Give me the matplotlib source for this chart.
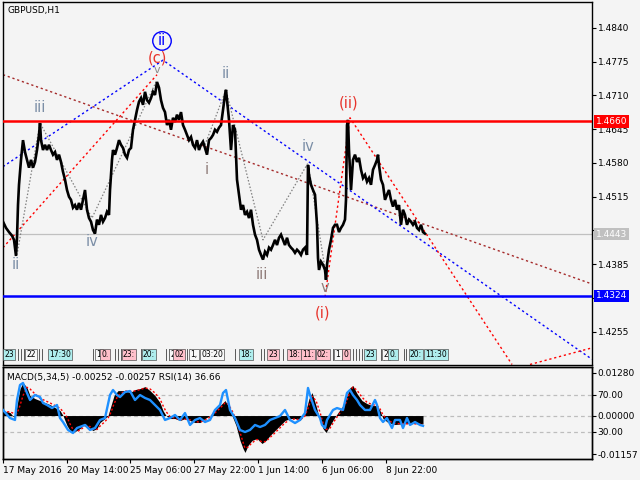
import matplotlib
matplotlib.use('Agg')
import matplotlib.pyplot as plt
import matplotlib.transforms as mtrans

plt.rcParams['font.family'] = ['DejaVu Sans']
BG = '#f4f4f4'

# ---------------- data (hourly bars, index = bar number) ----------------
price_idx = [0, 3, 6, 9, 11, 13, 14, 15, 16, 17,
             18, 19, 20, 22, 24, 26, 28, 30, 32, 34,
             36, 37, 38, 40, 42, 44, 46, 48, 50, 52,
             54, 56, 58, 60, 62, 64, 66, 68, 70, 72,
             74, 76, 78, 80, 82, 84, 86, 88, 90, 92,
             94, 96, 98, 100, 102, 104, 106, 107, 108, 109,
             110, 112, 114, 116, 118, 120, 122, 124, 126, 128,
             130, 132, 134, 136, 138, 140, 142, 144, 146, 148,
             150, 152, 154, 156, 158, 160, 162, 164, 166, 168,
             170, 172, 174, 176, 178, 180, 182, 184, 186, 188,
             190, 192, 194, 196, 198, 200, 202, 204, 206, 208,
             210, 212, 214, 216, 218, 220, 222, 223, 224, 226,
             228, 230, 232, 234, 236, 238, 240, 242, 244, 246,
             248, 250, 252, 254, 256, 258, 260, 262, 264, 266,
             268, 270, 272, 274, 276, 278, 280, 282, 284, 286,
             288, 290, 292, 294, 296, 298, 300, 302, 304, 305,
             306, 308, 310, 312, 314, 315, 316, 318, 320, 322,
             323, 324, 326, 328, 330, 332, 334, 336, 338, 340,
             342, 343, 344, 345, 346, 348, 350, 352, 354, 356,
             358, 360, 362, 364, 366, 368, 370, 372, 374, 375,
             376, 378, 380, 382, 384, 386, 388, 390, 392, 394,
             396, 398, 400, 402, 404, 406, 408, 410, 412, 414,
             416, 418, 420, 422]
price_close = [1.4467, 1.4455, 1.4447, 1.4440, 1.4432, 1.4401, 1.4436, 1.4499, 1.4538, 1.4563,
               1.4586, 1.4605, 1.4624, 1.4601, 1.4586, 1.4571, 1.4586, 1.4571, 1.4582, 1.4605,
               1.4634, 1.4657, 1.4624, 1.4605, 1.4615, 1.4605, 1.4615, 1.4605, 1.4596, 1.4601,
               1.4586, 1.4596, 1.4582, 1.4563, 1.4548, 1.4528, 1.4515, 1.4509, 1.4494, 1.4499,
               1.4490, 1.4503, 1.4490, 1.4509, 1.4528, 1.4490, 1.4474, 1.4467, 1.4451, 1.4444,
               1.4471, 1.4461, 1.4480, 1.4467, 1.4474, 1.4486, 1.4480, 1.4528, 1.4557, 1.4586,
               1.4605, 1.4596, 1.4609, 1.4624, 1.4615, 1.4609, 1.4596, 1.4590, 1.4605, 1.4609,
               1.4644, 1.4663, 1.4682, 1.4698, 1.4705, 1.4692, 1.4717, 1.4701, 1.4696, 1.4705,
               1.4717, 1.4711, 1.4736, 1.4725, 1.4701, 1.4686, 1.4678, 1.4653, 1.4663, 1.4644,
               1.4667, 1.4659, 1.4673, 1.4663, 1.4678, 1.4653, 1.4644, 1.4634, 1.4624, 1.4630,
               1.4615, 1.4609, 1.4624, 1.4605, 1.4615, 1.4621, 1.4609, 1.4596, 1.4624, 1.4628,
               1.4634, 1.4644, 1.4640, 1.4648, 1.4653, 1.4682, 1.4711, 1.4721, 1.4701, 1.4663,
               1.4605, 1.4653, 1.4644, 1.4548, 1.4519, 1.4490, 1.4499, 1.4480, 1.4486, 1.4474,
               1.4490, 1.4461, 1.4442, 1.4432, 1.4413, 1.4403, 1.4394, 1.4409, 1.4403, 1.4417,
               1.4413, 1.4422, 1.4432, 1.4422, 1.4436, 1.4442, 1.4432, 1.4422, 1.4436, 1.4422,
               1.4417, 1.4413, 1.4407, 1.4413, 1.4409, 1.4403, 1.4413, 1.4417, 1.4403, 1.4576,
               1.4557, 1.4538, 1.4528, 1.4519, 1.4461, 1.4397, 1.4374, 1.4390, 1.4384, 1.4374,
               1.4355, 1.4384, 1.4413, 1.4432, 1.4455, 1.4461, 1.4461, 1.4447, 1.4455, 1.4461,
               1.4471, 1.4509, 1.4653, 1.4663, 1.4605, 1.4528, 1.4586, 1.4596, 1.4582, 1.4590,
               1.4567, 1.4551, 1.4557, 1.4544, 1.4551, 1.4538, 1.4567, 1.4576, 1.4586, 1.4596,
               1.4576, 1.4548, 1.4538, 1.4509, 1.4519, 1.4528, 1.4509, 1.4496, 1.4509, 1.4490,
               1.4499, 1.4461, 1.4490, 1.4480, 1.4461, 1.4471, 1.4467, 1.4461, 1.4467, 1.4455,
               1.4451, 1.4461, 1.4447, 1.4444]

# horizontal levels
level_red = 1.4660
level_blue = 1.4324
level_last = 1.4443

# Elliott wave sub-wave paths (gray dotted)
wave_a_idx = [14, 37, 89, 154]
wave_a_val = [1.4403, 1.4657, 1.4474, 1.4740]
wave_b_idx = [202, 223, 260, 305, 323]
wave_b_val = [1.4615, 1.4721, 1.4432, 1.4580, 1.4365]
# trend lines
blue_idx = [0, 160, 589]
blue_val = [1.4573, 1.4778, 1.4202]
brown_idx = [0, 589]
brown_val = [1.4750, 1.4347]
red1_idx = [0, 154]
red1_val = [1.4417, 1.4750]
red2_idx = [322, 347, 509]
red2_val = [1.4322, 1.4667, 1.4192]
red3_idx = [527, 589]
red3_val = [1.4192, 1.4224]

# wave labels: text, bar index, price, colour key, size
lab_txt = ['ii', 'iii', 'iv', '(c)', 'v', 'i', 'ii', 'iii', 'iv', 'v', '(ii)', '(i)']
lab_idx = [13, 37, 89, 154, 154, 204, 223, 259, 305, 322, 346, 320]
lab_val = [1.4384, 1.4686, 1.4428, 1.4782, 1.4760, 1.4567, 1.4753, 1.4365, 1.4611, 1.4340, 1.4696, 1.4292]
lab_col = ['s', 's', 's', 'r', 'g', 'b', 's', 'b', 's', 'b', 'r', 'r']
lab_size = [10.5, 10.5, 10.5, 10.5, 8, 10.5, 10.5, 10.5, 10.5, 10.5, 10.5, 10.5]
circ_txt = 'ii'
circ_idx = 159
circ_val = 1.4815

# price axis
ytick_vals = [1.4840, 1.4775, 1.4710, 1.4645, 1.4580, 1.4515, 1.4450, 1.4385, 1.4320, 1.4255]
ytick_show = [True, True, True, True, True, True, False, True, False, True]

# time-label objects strip
tl_idx = [6, 28, 57, 96, 102, 126, 146, 170, 176, 191, 209, 243, 270, 291, 305, 320, 335, 343, 367, 383, 390, 413, 433]
tl_txt = ['23', '22', '17:30', '1', '0.', '23:', '20:', '2', '02', '1,', '03:20', '18:', '23', '18:',
          '11:', '02:', '1', '0', '23', '2', '0.', '20:', '11:30']
tl_col = ['c', 'w', 'c', 'w', 'p', 'p', 'c', 'w', 'p', 'w', 'w', 'c', 'p', 'p', 'p', 'p', 'w', 'p',
          'c', 'w', 'c', 'c', 'c']
sep_idx = [15, 18, 21, 36, 39, 90, 93, 112, 115, 118, 138, 141, 163, 166, 184, 187, 232, 258, 261,
           280, 330, 350, 353, 356, 359, 378, 381, 401, 403]

# MACD main
macd_idx = [0, 7, 12, 14, 17, 20, 24, 27, 32, 37, 42, 47, 52, 57, 60, 64, 67, 70, 74, 77,
            82, 87, 90, 94, 97, 102, 105, 108, 111, 115, 122, 127, 132, 137, 142, 147, 152, 157, 160, 163,
            167, 172, 177, 182, 187, 192, 197, 202, 207, 212, 217, 222, 225, 229, 233, 237, 240, 242, 245, 249,
            254, 259, 263, 267, 272, 277, 282, 287, 292, 297, 302, 306, 309, 313, 317, 320, 323, 327, 331, 335,
            340, 344, 347, 350, 354, 359, 364, 369, 374, 377, 380, 385, 392, 402, 412, 420]
macd_val = [0.0015, 0.0009, -0.0009, 0.0030, 0.0081, 0.0099, 0.0084, 0.0060, 0.0051, 0.0045,
            0.0039, 0.0033, 0.0024, 0.0015, 0.0000, -0.0030, -0.0045, -0.0051, -0.0045, -0.0039,
            -0.0024, -0.0039, -0.0045, -0.0039, -0.0021, -0.0009, 0.0000, 0.0030, 0.0060, 0.0075,
            0.0075, 0.0069, 0.0078, 0.0081, 0.0087, 0.0075, 0.0060, 0.0039, 0.0015, 0.0000,
            -0.0009, -0.0009, -0.0015, -0.0009, -0.0015, -0.0021, -0.0021, -0.0009, 0.0000, 0.0015,
            0.0030, 0.0045, 0.0030, 0.0000, -0.0030, -0.0075, -0.0099, -0.0111, -0.0090, -0.0075,
            -0.0069, -0.0084, -0.0075, -0.0060, -0.0045, -0.0030, -0.0015, -0.0009, -0.0009, -0.0015,
            0.0006, 0.0051, 0.0069, 0.0030, -0.0015, -0.0039, -0.0051, -0.0030, -0.0009, 0.0009,
            0.0030, 0.0060, 0.0084, 0.0090, 0.0066, 0.0045, 0.0036, 0.0030, 0.0030, 0.0015,
            -0.0009, -0.0021, -0.0027, -0.0024, -0.0024, -0.00252]
signal_val = [0.0012, 0.0011, 0.0005, 0.0006, 0.0030, 0.0060, 0.0085, 0.0080, 0.0065, 0.0052,
              0.0045, 0.0038, 0.0030, 0.0022, 0.0012, -0.0005, -0.0025, -0.0042, -0.0048, -0.0044,
              -0.0032, -0.0033, -0.0040, -0.0042, -0.0032, -0.0018, -0.0008, 0.0010, 0.0035, 0.0060,
              0.0074, 0.0072, 0.0074, 0.0078, 0.0083, 0.0080, 0.0068, 0.0050, 0.0030, 0.0012,
              -0.0003, -0.0008, -0.0012, -0.0011, -0.0013, -0.0018, -0.0020, -0.0014, -0.0005, 0.0008,
              0.0022, 0.0038, 0.0035, 0.0015, -0.0012, -0.0050, -0.0080, -0.0098, -0.0095, -0.0082,
              -0.0072, -0.0079, -0.0078, -0.0066, -0.0052, -0.0037, -0.0022, -0.0013, -0.0010, -0.0013,
              -0.0002, 0.0030, 0.0058, 0.0045, 0.0010, -0.0022, -0.0042, -0.0038, -0.0018, 0.0000,
              0.0020, 0.0045, 0.0072, 0.0086, 0.0076, 0.0055, 0.0040, 0.0033, 0.0030, 0.0020,
              0.0002, -0.0015, -0.0024, -0.0025, -0.0025, -0.00257]

# RSI(14)
rsi_idx = [0, 7, 12, 14, 17, 20, 24, 27, 32, 37, 40, 44, 49, 54, 57, 60, 65, 70, 74, 82,
           87, 92, 97, 102, 107, 110, 114, 117, 122, 127, 132, 137, 142, 147, 152, 157, 162, 167, 172, 177,
           182, 187, 192, 197, 202, 207, 212, 217, 220, 223, 227, 232, 237, 242, 247, 252, 257, 262, 267, 272,
           277, 282, 287, 292, 297, 302, 305, 307, 312, 317, 319, 322, 324, 327, 330, 334, 340, 344, 347, 350,
           354, 357, 362, 367, 372, 374, 377, 380, 384, 389, 392, 397, 400, 404, 407, 412, 417, 420]
rsi_val = [53.8, 45.1, 43.0, 64.6, 80.8, 83.0, 72.2, 64.6, 70.0, 67.8, 61.4, 59.2, 55.9, 59.2, 45.1, 40.8,
           32.2, 28.9, 34.3, 37.6, 32.2, 34.3, 43.0, 45.1, 70.0, 75.4, 70.0, 67.8, 73.2, 74.3, 64.6, 70.0,
           66.8, 64.6, 59.2, 53.8, 43.0, 45.1, 48.4, 43.0, 50.5, 37.6, 43.0, 45.1, 40.8, 43.0, 53.8, 59.2,
           72.2, 75.4, 53.8, 45.1, 32.2, 30.0, 32.2, 37.6, 35.4, 37.6, 43.0, 45.1, 47.3, 53.8, 43.0, 39.7,
           43.0, 50.5, 77.6, 70.0, 53.8, 45.1, 37.6, 34.3, 43.0, 48.4, 53.8, 55.9, 53.8, 72.2, 75.4, 70.0,
           64.6, 59.2, 53.8, 53.8, 64.6, 59.2, 45.1, 40.8, 45.1, 34.3, 43.0, 43.0, 34.3, 45.1, 37.6, 40.8,
           37.6, 36.66]

date_idx = [0, 64, 127, 191, 255, 319, 383]
date_lab = ['17 May 2016', '20 May 14:00', '25 May 06:00', '27 May 22:00', '1 Jun 14:00', '6 Jun 06:00', '8 Jun 22:00']

# ---------------- figure ----------------
fig = plt.figure(figsize=(6.4, 4.8), dpi=100, facecolor=BG)
ax = fig.add_axes([3 / 640, 1 - 365 / 480, 589 / 640, 363 / 480])
ax.set_facecolor(BG)
ax.set_xlim(0, 589)
ax.set_ylim(1.4191, 1.4890)

# horizontal levels
ax.axhline(level_last, color='#c0c0c0', lw=0.9, zorder=1)
ax.axhline(level_red, color='#ff0000', lw=1.8, zorder=4)
ax.axhline(level_blue, color='#0000ff', lw=1.8, zorder=4)

dot = dict(lw=1.0, dashes=(1.6, 2.0))
ax.plot(brown_idx, brown_val, color='#a52a2a', zorder=2, **dot)
ax.plot(blue_idx, blue_val, color='#0000ff', zorder=2, **dot)
ax.plot(red1_idx, red1_val, color='#ff0000', zorder=2, **dot)
ax.plot(red2_idx, red2_val, color='#ff0000', zorder=2, **dot)
ax.plot(red3_idx, red3_val, color='#ff0000', zorder=2, **dot)
ax.plot(wave_a_idx, wave_a_val, color='#808080', lw=0.9, dashes=(1.2, 1.5), zorder=2)
ax.plot(wave_b_idx, wave_b_val, color='#808080', lw=0.9, dashes=(1.2, 1.5), zorder=2)

# price
ax.plot(price_idx, price_close, color='black', lw=1.9, zorder=3, solid_joinstyle='miter')

# wave labels
cmap = {'s': '#7b8ea6', 'b': '#8f7c79', 'r': '#e8332b', 'g': '#8a8a8a'}
for t, xi, yv, c, fs in zip(lab_txt, lab_idx, lab_val, lab_col, lab_size):
    ax.text(xi, yv, t, color=cmap[c], fontsize=fs, ha='center', va='center', zorder=6)
ax.text(circ_idx, circ_val, circ_txt, color='#0000ff', fontsize=10.5, ha='center', va='center', zorder=6,
        bbox=dict(boxstyle='circle,pad=0.12', fc='none', ec='#0000ff', lw=1.0))

ax.text(0.007, 0.988, 'GBPUSD,H1', transform=ax.transAxes, fontsize=6.5, va='top', ha='left')

# time label strip
tcol = {'c': '#afeeee', 'p': '#ffc0cb', 'w': '#f8f8f8'}
for xi in sep_idx:
    ax.plot([xi, xi], [1.4200, 1.4222], color='#404040', lw=0.6, zorder=5)
for xi, t, c in zip(tl_idx, tl_txt, tl_col):
    ax.text(xi, 1.4211, t, fontsize=5.5, ha='center', va='center', zorder=6,
            bbox=dict(boxstyle='square,pad=0.18', fc=tcol[c], ec='#505050', lw=0.5))

# axes styling
ax.set_xticks([])
ax.yaxis.tick_right()
ax.set_yticks(ytick_vals)
ax.set_yticklabels(['%.4f' % v if show else '' for v, show in zip(ytick_vals, ytick_show)])
ax.tick_params(axis='y', direction='out', length=3, width=0.8, labelsize=6.5, pad=1)
for s in ax.spines.values():
    s.set_color('black')
    s.set_linewidth(1.0)

# right-side level boxes
bt = mtrans.blended_transform_factory(ax.transAxes, ax.transData)
for val, fc in [(level_red, '#ff0000'), (level_blue, '#0000ff'), (level_last, '#c0c0c0')]:
    ax.text(1.006, val, '%.4f' % val, transform=bt, fontsize=6.5, color='white', ha='left', va='center',
            zorder=10, clip_on=False,
            bbox=dict(boxstyle='square,pad=0.2', fc=fc, ec='none'))

# ---------------- MACD / RSI panel ----------------
ax2 = fig.add_axes([3 / 640, 1 - 459 / 480, 589 / 640, 92 / 480])
ax2.set_facecolor(BG)
ax2.set_xlim(0, 589)
ax2.set_ylim(-0.013074, 0.014605)
ax3 = ax2.twinx()
ax3.set_ylim(0.81, 100.27)

lev_t = mtrans.blended_transform_factory(ax2.transAxes, ax3.transData)
for lv in [70, 30]:
    ax2.plot([0, 1], [lv, lv], transform=lev_t, color='#bdbdbd', lw=0.9, dashes=(3, 2.5), zorder=1)
ax2.axhline(0, color='#bdbdbd', lw=0.9, dashes=(3, 2.5), zorder=1)

ax2.fill_between(macd_idx, 0, macd_val, color='black', lw=0, zorder=2)
ax2.plot(macd_idx, signal_val, color='#ff0000', lw=1.0, dashes=(1.5, 1.5), zorder=3)
ax3.plot(rsi_idx, rsi_val, color='#1e90ff', lw=1.7, zorder=4)

ax2.text(0.006, 0.93, 'MACD(5,34,5) -0.00252 -0.00257 RSI(14) 36.66', transform=ax2.transAxes,
         fontsize=6.5, va='top', ha='left')

ax2.yaxis.tick_right()
ax2.set_yticks([0.0128, 0.0, -0.01157])
ax2.set_yticklabels(['0.01280', '0.00000', '-0.01157'])
ax3.set_yticks([70, 30])
ax3.set_yticklabels(['70.00', '30.00'])
for a in (ax2, ax3):
    a.tick_params(axis='y', direction='out', length=3, width=0.8, labelsize=6.5, pad=1)
    for s in a.spines.values():
        s.set_color('black')
        s.set_linewidth(1.0)

ax2.set_xticks(date_idx)
ax2.set_xticklabels(date_lab, ha='left')
ax2.tick_params(axis='x', direction='out', length=3, width=0.8, labelsize=6.5, pad=2)

fig.savefig('out.png', dpi=100, facecolor=BG)
